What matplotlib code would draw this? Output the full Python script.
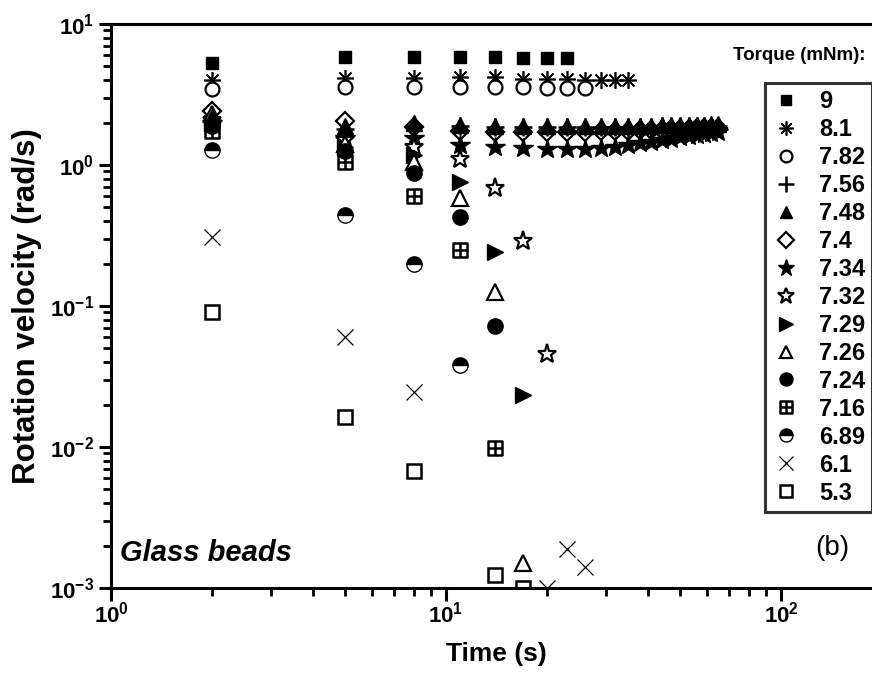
import math
import matplotlib
matplotlib.use("Agg")
import matplotlib.pyplot as plt
from matplotlib.path import Path
from matplotlib.ticker import LogLocator, FuncFormatter, NullFormatter

plt.rcParams['font.family'] = ['Liberation Sans', 'DejaVu Sans']
plt.rcParams['mathtext.fontset'] = 'custom'
plt.rcParams['mathtext.bf'] = 'Liberation Sans:bold'
plt.rcParams['mathtext.rm'] = 'Liberation Sans:bold'

# rotation velocity (rad/s) vs time (s), one series per applied torque (mNm)
torques = ['9', '8.1', '7.82', '7.56', '7.48', '7.4', '7.34', '7.32',
           '7.29', '7.26', '7.24', '7.16', '6.89', '6.1', '5.3']

t_long = [2, 5, 8, 11, 14, 17, 20, 23, 26, 29, 32, 35, 38, 41, 44, 47,
          50, 53, 56, 59, 62, 65]

t_9 = [2, 5, 8, 11, 14, 17, 20, 23]
v_9 = [5.3, 5.8, 5.8, 5.85, 5.85, 5.7, 5.7, 5.7]

t_81 = [2, 5, 8, 11, 14, 17, 20, 23, 26, 29, 32, 35]
v_81 = [4.0, 4.15, 4.15, 4.2, 4.2, 4.1, 4.1, 4.05, 4.0, 4.0, 4.0, 4.0]

t_782 = [2, 5, 8, 11, 14, 17, 20, 23, 26]
v_782 = [3.45, 3.55, 3.6, 3.6, 3.6, 3.55, 3.5, 3.5, 3.5]

v_756 = [2.1, 1.8, 1.9, 1.88, 1.86, 1.85, 1.85, 1.85, 1.85, 1.85, 1.86,
         1.86, 1.87, 1.87, 1.88, 1.88, 1.89, 1.89, 1.9, 1.9, 1.9, 1.9]
v_748 = [2.2, 1.9, 1.98, 1.92, 1.9, 1.9, 1.88, 1.88, 1.88, 1.88, 1.89,
         1.89, 1.9, 1.9, 1.91, 1.91, 1.92, 1.92, 1.93, 1.93, 1.94, 1.94]
v_74 = [2.4, 2.05, 1.85, 1.75, 1.72, 1.72, 1.72, 1.72, 1.72, 1.73, 1.74,
        1.75, 1.76, 1.77, 1.78, 1.79, 1.8, 1.81, 1.82, 1.82, 1.83, 1.83]
v_734 = [2.0, 1.55, 1.55, 1.38, 1.34, 1.32, 1.3, 1.3, 1.3, 1.32, 1.35,
         1.38, 1.42, 1.46, 1.5, 1.53, 1.57, 1.6, 1.63, 1.66, 1.69, 1.72]

t_732 = [2, 5, 8, 11, 14, 17, 20]
v_732 = [2.1, 1.5, 1.35, 1.1, 0.69, 0.29, 0.046]

t_729 = [2, 5, 8, 11, 14, 17]
v_729 = [2.0, 1.35, 1.18, 0.76, 0.24, 0.0235]

t_726 = [2, 5, 8, 11, 14, 17]
v_726 = [2.3, 1.4, 1.05, 0.58, 0.126, 0.0015]

t_724 = [2, 5, 8, 11, 14]
v_724 = [1.9, 1.25, 0.88, 0.43, 0.072]

t_716 = [2, 5, 8, 11, 14]
v_716 = [1.75, 1.05, 0.60, 0.25, 0.0098]

t_689 = [2, 5, 8, 11]
v_689 = [1.28, 0.44, 0.20, 0.038]

t_61 = [2, 5, 8, 20, 23, 26]
v_61 = [0.31, 0.060, 0.0245, 0.001, 0.0019, 0.0014]

t_53 = [2, 5, 8, 14, 17]
v_53 = [0.091, 0.0163, 0.0068, 0.00124, 0.001]

# square with a cross inside
sq_cross = Path(
    [(-1, -1), (1, -1), (1, 1), (-1, 1), (-1, -1),
     (0, -1), (0, 1), (-1, 0), (1, 0)],
    [Path.MOVETO, Path.LINETO, Path.LINETO, Path.LINETO, Path.CLOSEPOLY,
     Path.MOVETO, Path.LINETO, Path.MOVETO, Path.LINETO])

K = 'black'
W = 'white'
styles = [
    dict(marker='s', mfc=K, ms=9),
    dict(marker=(8, 2, 0), mfc=K, ms=12, mew=1.2),
    dict(marker='o', mfc=W, ms=10, mew=1.6),
    dict(marker='+', mfc=K, ms=13, mew=1.8, zorder=3.2),
    dict(marker='^', mfc=K, ms=11, zorder=3.1),
    dict(marker='D', mfc=W, ms=9, mew=1.6),
    dict(marker='*', mfc=K, ms=15),
    dict(marker='*', mfc=W, ms=14, mew=1.6),
    dict(marker='>', mfc=K, ms=12),
    dict(marker='^', mfc=W, ms=11, mew=1.6),
    dict(marker='o', mfc=K, ms=11),
    dict(marker=sq_cross, mfc='none', ms=10, mew=1.8),
    dict(marker='o', mfc=K, ms=11, fillstyle='top', mfcalt=W),
    dict(marker='x', mfc=K, ms=12, mew=0.9),
    dict(marker='s', mfc=W, ms=10, mew=1.8),
]

series = [
    (t_9, v_9), (t_81, v_81), (t_782, v_782), (t_long, v_756),
    (t_long, v_748), (t_long, v_74), (t_long, v_734), (t_732, v_732),
    (t_729, v_729), (t_726, v_726), (t_724, v_724), (t_716, v_716),
    (t_689, v_689), (t_61, v_61), (t_53, v_53),
]

fig = plt.figure(figsize=(8.72, 6.81), dpi=100)
ax = fig.add_axes([0.1273, 0.1366, 0.884, 0.8282])

handles = []
for (t, v), lab, st in zip(series, torques, styles):
    st = dict(st)
    alt = st.pop('mfcalt', None)
    h, = ax.plot(t, v, linestyle='none', color=K, mec=K, label=lab,
                 markerfacecoloralt=alt if alt else 'none', **st)
    handles.append(h)

ax.set_xscale('log')
ax.set_yscale('log')
ax.set_xlim(1, 200)
ax.set_ylim(1e-3, 10)

for side in ['left', 'bottom', 'top', 'right']:
    ax.spines[side].set_linewidth(2.2)

fmt = FuncFormatter(lambda val, pos: r'$\mathbf{10^{%d}}$' % round(math.log10(val)))
ax.xaxis.set_major_locator(LogLocator(base=10, numticks=10))
ax.yaxis.set_major_locator(LogLocator(base=10, numticks=10))
ax.xaxis.set_minor_locator(LogLocator(base=10, subs=range(2, 10), numticks=20))
ax.yaxis.set_minor_locator(LogLocator(base=10, subs=range(2, 10), numticks=20))
ax.xaxis.set_major_formatter(fmt)
ax.yaxis.set_major_formatter(fmt)
ax.xaxis.set_minor_formatter(NullFormatter())
ax.yaxis.set_minor_formatter(NullFormatter())
ax.tick_params(which='major', direction='out', length=9, width=2.2,
               labelsize=16, pad=3, top=False, right=False)
ax.tick_params(which='minor', direction='out', length=6, width=2,
               top=False, right=False)
ax.tick_params(axis='x', which='major', pad=1)

ax.set_xlabel('Time (s)', fontsize=19, fontweight='bold', labelpad=10)
ax.set_ylabel('Rotation velocity (rad/s)', fontsize=22.5, fontweight='bold',
              labelpad=6)

leg = ax.legend(handles=handles, loc='upper left',
                bbox_to_anchor=(0.877, 0.878), bbox_transform=fig.transFigure,
                frameon=True, fancybox=False, edgecolor=K,
                prop={'weight': 'bold', 'size': 17}, labelspacing=0.21,
                handlelength=1.2, handletextpad=0.8, borderpad=0.3,
                markerscale=0.85, borderaxespad=0)
leg.get_frame().set_linewidth(2.2)

fig.text(0.916, 0.918, 'Torque (mNm):', fontsize=13.5, fontweight='bold',
         ha='center', va='center')
fig.text(0.138, 0.188, 'Glass beads', fontsize=21, fontweight='bold',
         style='italic', ha='left', va='center')
fig.text(0.955, 0.195, '(b)', fontsize=20, ha='center', va='center')

plt.savefig("out.png", dpi=100)
